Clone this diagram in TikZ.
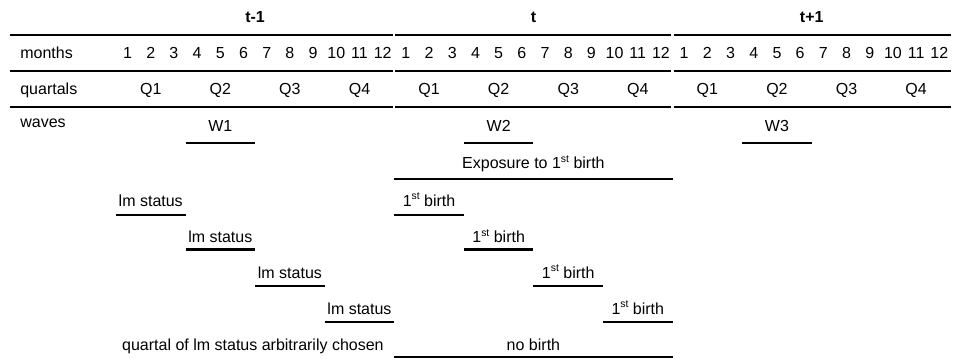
\documentclass[tikz,border=0pt]{standalone}
\usepackage{fontspec}
\setmainfont{Liberation Sans}
\newcommand{\ordsup}[1]{\raisebox{0.42em}{\fontsize{5.2}{6}\selectfont #1}}
\begin{document}
\begin{tikzpicture}[
    x=11.595pt, y=-17.9pt,
    font=\fontsize{8}{9.6}\selectfont,
    yearlbl/.style={anchor=base, inner sep=0pt, font=\fontsize{8}{9.6}\selectfont\bfseries},
    rowlbl/.style={anchor=base west, inner sep=0pt},
    cell/.style={anchor=base, inner sep=0pt},
    rule/.style={line width=1.2pt},
    span/.style={line width=1.1pt},
]
    \useasboundingbox (-5.0,0) rectangle (36.22,10);

    % ============= Table head: years, months, quartals =============
    \node[yearlbl] (yprev) at (6,0.63) {t-1};
    \node[yearlbl] (ycur) at (18,0.63) {t};
    \node[yearlbl] (ynext) at (30,0.63) {t+1};
    \foreach \r in {0.98,1.975,2.99} {
        \draw[rule] (-4.57,\r) -- (11.95,\r);
        \draw[rule] (12.04,\r) -- (23.95,\r);
        \draw[rule] (24.04,\r) -- (36,\r);
    }
    \node[rowlbl] (months) at (-4.14,1.63) {months};
    \node[rowlbl] (quartals) at (-4.14,2.65) {quartals};
    \node[rowlbl] (waves) at (-4.14,3.55) {waves};
    \foreach \y in {0,1,2} {
        \foreach \m in {1,...,12}
            \node[cell] (m\y-\m) at (12*\y+\m-0.5,1.63) {\m};
        \foreach \q in {1,...,4}
            \node[cell] (q\y-\q) at (12*\y+3*\q-1.5,2.65) {Q\q};
    }

    % ============= Waves and exposure =============
    \foreach \w in {1,2,3} {
        \node[cell] (w\w) at (12*\w-7.5,3.67) {W\w};
        \draw[span] (12*\w-9,3.99) -- ++(3,0);
    }
    \node[cell] (expo) at (18,4.72) {Exposure to 1\ordsup{st} birth};
    \draw[span] (12,5.0) -- (24,5.0);

    % ============= lm status quartal vs. birth quartal =============
    \foreach \k/\yl/\yb in {0/6.0/5.77, 1/6.97/6.78, 2/7.98/7.77, 3/8.99/8.77} {
        \node[cell] (lm\k) at (3*\k+1.5,\yb) {lm status};
        \draw[span] (3*\k,\yl) -- ++(3,0);
        \node[cell] (birth\k) at (13.5+3*\k,\yb) {1\ordsup{st} birth};
        \draw[span] (12+3*\k,\yl) -- ++(3,0);
    }
    \node[anchor=base east, inner sep=0pt] (arb) at (11.56,9.78) {quartal of lm status arbitrarily chosen};
    \node[cell] (nobirth) at (18,9.78) {no birth};
    \draw[span] (12,9.97) -- (24,9.97);
\end{tikzpicture}
\end{document}
